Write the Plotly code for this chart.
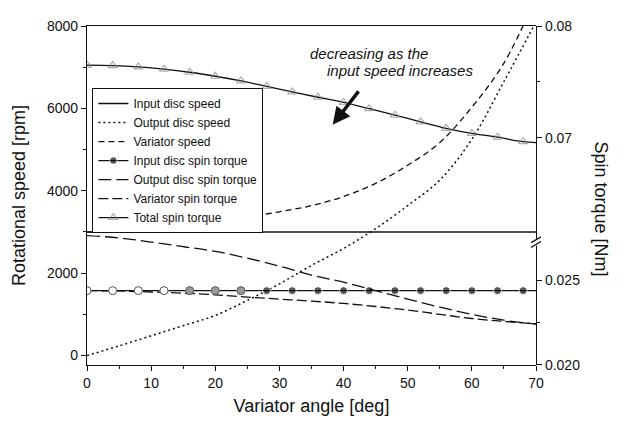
import plotly.graph_objects as go

# ---------------- data ----------------
angle = [0, 5, 10, 15, 20, 25, 30, 35, 40, 45, 50, 55, 60, 65, 70]
input_speed = [3000, 3000, 3000, 3000, 3000, 3000, 3000, 3000, 3000, 3000, 3000, 3000, 3000, 3000, 3000]
output_speed = [0, 235, 480, 725, 975, 1340, 1740, 2190, 2600, 3080, 3640, 4260, 5250, 6650, 8100]
variator_speed = [3000, 3000, 3050, 3140, 3255, 3370, 3490, 3640, 3860, 4180, 4620, 5170, 6030, 7100, 8700]
output_torque = [0.02765, 0.02752, 0.02727, 0.02700, 0.02672, 0.02632, 0.02585, 0.02532, 0.02490,
                 0.02440, 0.02390, 0.02342, 0.02300, 0.02265, 0.02242]
variator_torque = [0.02440, 0.02438, 0.02432, 0.02425, 0.02415, 0.02402, 0.02390, 0.02378, 0.02364,
                   0.02346, 0.02325, 0.02300, 0.02275, 0.02258, 0.02243]

angle_mk = [0, 4, 8, 12, 16, 20, 24, 28, 32, 36, 40, 44, 48, 52, 56, 60, 64, 68, 70]
input_torque = [0.0244, 0.0244, 0.0244, 0.0244, 0.0244, 0.0244, 0.0244, 0.0244, 0.0244, 0.0244,
                0.0244, 0.0244, 0.0244, 0.0244, 0.0244, 0.0244, 0.0244, 0.0244, 0.0244]
total_torque = [0.07650, 0.07646, 0.07634, 0.07614, 0.07586, 0.07550, 0.07508, 0.07460, 0.07410,
                0.07362, 0.07316, 0.07260, 0.07202, 0.07142, 0.07084, 0.07038, 0.07005, 0.06964, 0.06955]

x_ticks = [0, 10, 20, 30, 40, 50, 60, 70]
rpm_ticks = [0, 2000, 4000, 6000, 8000]
torque_low_ticks = [0.020, 0.025]
torque_low_labels = ["0.020", "0.025"]
torque_high_ticks = [0.07, 0.08]
torque_high_labels = ["0.07", "0.08"]

# ---------------- styles ----------------
FONT = "Arial, Liberation Sans, sans-serif"
INK = "#111111"
mk_sizes = [8] * 18 + [0]
tri_sizes = [8] * 18 + [0]
n_light = 7
light_colors = ["white", "white", "white", "white", "#9a9a9a", "#9a9a9a", "#9a9a9a"]

fig = go.Figure()

fig.add_trace(go.Scatter(x=angle, y=input_speed, name="Input disc speed", mode="lines",
                         line=dict(color=INK, width=1.5), yaxis="y"))
fig.add_trace(go.Scatter(x=angle, y=output_speed, name="Output disc speed", mode="lines",
                         line=dict(color=INK, width=1.5, dash="2px,3px", shape="spline"), yaxis="y"))
fig.add_trace(go.Scatter(x=angle, y=variator_speed, name="Variator speed", mode="lines",
                         line=dict(color=INK, width=1.3, dash="6px,4px", shape="spline"), yaxis="y"))
fig.add_trace(go.Scatter(x=angle_mk, y=input_torque, name="Input disc spin torque", mode="lines+markers",
                         line=dict(color=INK, width=1.3),
                         marker=dict(symbol="circle", size=mk_sizes, color=INK), yaxis="y2"))
fig.add_trace(go.Scatter(x=angle, y=output_torque, name="Output disc spin torque", mode="lines",
                         line=dict(color=INK, width=1.3, dash="13px,5px", shape="spline"), yaxis="y2"))
fig.add_trace(go.Scatter(x=angle, y=variator_torque, name="Variator spin torque", mode="lines",
                         line=dict(color=INK, width=1.3, dash="10px,4px", shape="spline"), yaxis="y2"))
fig.add_trace(go.Scatter(x=angle_mk, y=total_torque, name="Total spin torque", mode="lines+markers",
                         line=dict(color=INK, width=1.3, shape="spline"),
                         marker=dict(symbol="triangle-up-open", size=tri_sizes, color="#8a8a8a",
                                     line=dict(width=1.2)), yaxis="y3"))
# lighter (scanned) markers at the start of the input torque series
fig.add_trace(go.Scatter(x=angle_mk[:n_light], y=input_torque[:n_light], mode="markers", showlegend=False,
                         marker=dict(symbol="circle", size=8, color=light_colors,
                                     line=dict(color="#555", width=1)), yaxis="y2", hoverinfo="skip"))

axis_common = dict(showline=True, linecolor=INK, linewidth=1.2, showgrid=False, zeroline=False,
                   ticks="outside", ticklen=5, tickwidth=1.1, tickcolor=INK,
                   tickfont=dict(family=FONT, size=14, color=INK))

dom_split = 0.3954
TITLE_FONT = dict(family=FONT, size=18, color=INK)

fig.update_layout(
    width=619, height=415,
    margin=dict(l=79, r=91, t=10, b=56),
    paper_bgcolor="white", plot_bgcolor="rgba(0,0,0,0)",
    font=dict(family=FONT, color=INK),
    xaxis=dict(range=[0, 70], tickvals=x_ticks, mirror=True,
               minor=dict(dtick=5, ticks="outside", ticklen=3, tickcolor=INK),
               title=dict(text="Variator angle [deg]", font=TITLE_FONT, standoff=9),
               **axis_common),
    yaxis=dict(range=[-229, 8000], tickvals=rpm_ticks,
               minor=dict(dtick=1000, ticks="outside", ticklen=3, tickcolor=INK),
               title=dict(text="Rotational speed [rpm]", font=TITLE_FONT, standoff=16),
               **axis_common),
    yaxis2=dict(domain=[0, dom_split], range=[0.020, 0.02793], anchor="x", side="right",
                tickvals=torque_low_ticks, ticktext=torque_low_labels,
                minor=dict(tickvals=[0.0225], ticks="outside", ticklen=3, tickcolor=INK),
                **axis_common),
    yaxis3=dict(domain=[dom_split, 1], range=[0.06165, 0.08], anchor="x", side="right",
                tickvals=torque_high_ticks, ticktext=torque_high_labels,
                minor=dict(tickvals=[0.075], ticks="outside", ticklen=3, tickcolor=INK),
                **axis_common),
    legend=dict(x=0.012, y=0.817, xanchor="left", yanchor="top",
                bgcolor="white", bordercolor=INK, borderwidth=1,
                font=dict(family=FONT, size=12, color=INK), tracegroupgap=0),
    showlegend=True,
)

fig.add_annotation(x=1.172, y=0.461, xref="paper", yref="paper", text="Spin torque [Nm]",
                   textangle=90, showarrow=False, font=TITLE_FONT)
fig.add_annotation(x=34.5, y=7323, xref="x", yref="y", text="<i>decreasing as the</i>",
                   xanchor="left", showarrow=False, font=dict(family=FONT, size=15, color=INK))
fig.add_annotation(x=37.1, y=6922, xref="x", yref="y", text="<i>input speed increases</i>",
                   xanchor="left", showarrow=False, font=dict(family=FONT, size=15, color=INK))
fig.add_annotation(x=38.3, y=5600, xref="x", yref="y", text="", showarrow=True,
                   ax=27, ay=-35, arrowhead=2, arrowsize=1, arrowwidth=3.5, arrowcolor=INK)

# axis break marks on the right axis
fig.add_shape(type="rect", xref="paper", yref="paper", x0=0.99, x1=1.01, y0=0.352, y1=0.372,
              fillcolor="white", line=dict(width=0), layer="above")
fig.add_shape(type="line", xref="paper", yref="paper", x0=0.989, y0=0.347, x1=1.011, y1=0.364,
              line=dict(color=INK, width=1.2), layer="above")
fig.add_shape(type="line", xref="paper", yref="paper", x0=0.989, y0=0.361, x1=1.011, y1=0.378,
              line=dict(color=INK, width=1.2), layer="above")

fig.write_html("out.html")
